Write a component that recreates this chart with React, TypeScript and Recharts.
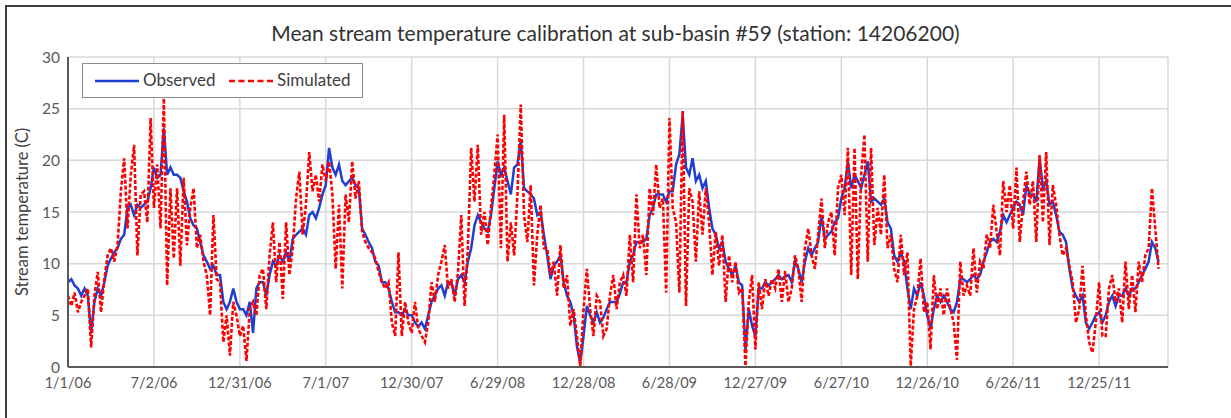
import { LineChart, Line, XAxis, YAxis, CartesianGrid, Legend } from "recharts";

// weekly samples (every 7 days from 1/1/06)
const weekStep = 7;

const observed2006 = [8.2, 8.5, 7.9, 7.6, 6.9, 7.6, 6.9, 3.3, 6.3, 7.6, 6.9, 8.2, 9.8, 10.5, 11.1, 11.5, 12.4, 12.8, 15.4, 15.7, 14.7, 15.7, 15.4, 15.7, 16.0, 17.3, 19.3, 18.3, 18.6, 23.1, 18.6, 19.3, 18.6, 18.6, 18.3, 17.0, 16.0, 14.4, 13.7, 13.4, 12.1, 10.8, 10.2, 9.5, 9.8, 8.9, 8.9, 6.3, 5.6, 6.3, 7.6, 6.3, 5.6];
const observed2007 = [5.6, 5.0, 6.3, 3.3, 7.6, 8.2, 8.2, 6.9, 8.9, 10.2, 9.8, 10.8, 10.2, 11.1, 10.2, 12.4, 12.8, 13.1, 13.4, 12.8, 14.7, 15.0, 14.4, 15.4, 16.7, 17.6, 21.2, 19.3, 18.6, 19.6, 18.0, 17.6, 18.0, 18.3, 17.6, 17.3, 13.4, 12.8, 12.1, 11.5, 10.2, 9.8, 8.2, 8.2, 7.6, 6.3, 5.3, 5.3, 5.0, 5.6, 5.0, 5.0];
const observed2008 = [4.3, 3.9, 4.3, 3.7, 5.0, 6.3, 6.9, 7.6, 7.9, 6.9, 8.2, 8.2, 6.9, 8.5, 8.9, 8.2, 10.2, 11.5, 13.7, 14.7, 14.0, 13.4, 13.1, 14.7, 17.3, 19.9, 18.6, 19.3, 18.0, 16.7, 19.3, 19.6, 21.9, 17.3, 17.0, 16.7, 16.3, 14.7, 15.0, 12.8, 10.8, 8.5, 9.8, 10.2, 10.8, 8.2, 6.9, 6.3, 5.0, 2.0, 0.4, 3.0];
const observed2009 = [5.9, 5.0, 4.3, 5.3, 4.3, 4.8, 5.6, 6.3, 6.3, 6.3, 7.1, 8.2, 8.2, 10.2, 10.8, 12.1, 12.1, 12.1, 12.4, 14.7, 15.4, 16.7, 16.7, 16.7, 16.0, 17.0, 17.0, 19.6, 20.6, 24.4, 19.3, 18.6, 20.2, 18.0, 18.6, 17.3, 18.0, 15.4, 13.4, 12.8, 11.5, 12.1, 10.2, 9.5, 8.9, 9.8, 8.2, 7.9, 1.7, 5.6, 4.0, 3.0];
const observed2010 = [7.6, 7.6, 8.2, 7.9, 8.2, 8.5, 8.9, 8.5, 8.8, 8.9, 8.2, 10.2, 9.5, 8.2, 10.2, 11.5, 10.8, 11.5, 12.1, 14.7, 12.4, 12.8, 13.1, 14.0, 14.4, 16.3, 17.3, 19.9, 17.3, 18.6, 18.0, 17.3, 18.6, 19.9, 16.0, 16.3, 16.0, 15.7, 16.3, 14.0, 13.4, 10.8, 10.2, 11.1, 10.2, 7.6, 5.6, 7.6, 6.9, 8.2, 6.9, 5.0];
const observed2011 = [3.7, 5.6, 6.9, 6.3, 6.9, 6.3, 5.6, 5.3, 6.3, 8.5, 8.5, 8.2, 8.5, 8.9, 8.5, 8.9, 10.2, 11.1, 12.1, 12.4, 12.1, 13.1, 14.7, 14.0, 14.7, 15.4, 16.0, 15.7, 14.7, 17.6, 16.7, 16.7, 16.0, 20.2, 17.3, 18.0, 15.7, 16.0, 14.7, 13.1, 12.8, 12.1, 9.5, 7.6, 6.9, 6.3, 6.9, 4.3, 3.7, 4.3, 5.0, 5.3];
const observed2012 = [4.3, 5.0, 6.3, 6.9, 5.9, 6.9, 6.9, 7.6, 6.9, 7.6, 7.6, 8.2, 8.9, 9.5, 10.2, 12.1, 11.5, 10.2];

const simulated2006 = [6.9, 5.9, 7.2, 5.3, 6.3, 6.9, 7.6, 1.9, 6.9, 9.2, 5.3, 8.5, 10.8, 11.5, 10.2, 11.8, 17.0, 20.2, 13.4, 18.6, 21.5, 10.8, 16.7, 17.0, 14.0, 24.1, 15.4, 19.6, 13.4, 26.0, 7.9, 17.3, 10.5, 17.3, 9.8, 18.3, 11.8, 15.4, 17.3, 11.5, 12.8, 10.2, 8.9, 5.0, 14.7, 8.5, 8.2, 2.4, 5.0, 1.1, 6.3, 5.0, 3.0];
const simulated2007 = [4.0, 0.6, 5.6, 6.3, 5.0, 8.9, 9.5, 5.6, 10.8, 14.0, 8.2, 12.1, 6.6, 14.0, 8.9, 11.5, 16.3, 18.9, 12.8, 15.7, 20.8, 17.0, 18.6, 16.0, 19.6, 18.0, 19.9, 16.7, 9.5, 15.7, 7.6, 16.7, 14.0, 19.9, 16.3, 18.0, 13.1, 12.1, 11.5, 11.1, 10.5, 9.2, 8.2, 7.6, 8.2, 4.3, 3.0, 11.1, 3.0, 6.3, 4.3, 3.3];
const simulated2008 = [6.3, 3.7, 3.0, 2.4, 4.3, 8.2, 6.3, 8.9, 10.2, 11.8, 7.6, 8.5, 6.3, 9.2, 14.7, 5.9, 11.5, 21.2, 16.0, 21.5, 12.8, 15.0, 11.8, 15.4, 18.6, 22.5, 11.5, 24.4, 10.2, 14.0, 10.8, 16.7, 25.4, 14.7, 12.1, 17.6, 7.9, 12.8, 15.7, 11.5, 11.5, 8.9, 10.2, 6.9, 11.8, 7.6, 8.9, 4.0, 5.6, 3.0, 0.1, 5.6];
const simulated2009 = [9.5, 5.6, 3.0, 6.9, 6.3, 3.0, 3.7, 6.9, 8.9, 5.6, 8.2, 8.9, 6.9, 12.8, 8.2, 16.7, 11.5, 12.8, 8.9, 17.3, 14.7, 19.6, 15.4, 16.3, 7.2, 24.1, 15.4, 14.0, 7.2, 24.8, 5.9, 17.3, 16.0, 10.2, 17.0, 12.8, 17.3, 14.0, 8.9, 13.1, 9.8, 12.8, 6.3, 10.8, 8.2, 10.2, 7.2, 7.6, 0.1, 6.3, 8.9, 1.7];
const simulated2010 = [8.2, 5.6, 8.5, 6.9, 8.5, 7.6, 9.5, 6.3, 9.3, 6.3, 7.6, 10.8, 9.5, 6.3, 11.5, 13.4, 10.8, 9.5, 12.8, 16.3, 11.5, 14.0, 15.0, 10.8, 17.3, 18.6, 14.7, 21.2, 8.9, 21.2, 8.5, 18.6, 22.5, 10.2, 21.2, 11.8, 15.4, 12.8, 18.6, 11.5, 12.8, 9.5, 8.2, 12.8, 8.9, 11.1, 0.1, 5.6, 6.9, 10.5, 5.3, 6.3];
const simulated2011 = [1.7, 8.9, 5.6, 7.6, 5.0, 7.6, 5.6, 4.3, 0.7, 10.2, 6.9, 7.9, 6.9, 11.5, 7.2, 10.2, 9.5, 12.8, 11.5, 15.7, 13.1, 10.8, 18.0, 15.0, 17.6, 13.4, 19.3, 12.1, 16.0, 18.9, 15.7, 18.0, 12.1, 20.5, 14.0, 20.8, 11.8, 17.6, 15.7, 12.8, 10.8, 11.5, 9.8, 8.2, 4.3, 5.6, 9.8, 5.0, 2.4, 1.4, 4.3, 8.2];
const simulated2012 = [3.0, 3.0, 7.6, 8.9, 6.3, 7.6, 4.3, 10.2, 5.6, 8.9, 5.3, 10.2, 8.2, 10.8, 11.5, 17.3, 13.4, 9.5];

const observed = [...observed2006, ...observed2007, ...observed2008, ...observed2009, ...observed2010, ...observed2011, ...observed2012];
const simulated = [...simulated2006, ...simulated2007, ...simulated2008, ...simulated2009, ...simulated2010, ...simulated2011, ...simulated2012];

const tickDays = [0, 182, 364, 546, 728, 910, 1092, 1274, 1456, 1638, 1820, 2002, 2184];
const tickLabels = ["1/1/06", "7/2/06", "12/31/06", "7/1/07", "12/30/07", "6/29/08", "12/28/08", "6/28/09", "12/27/09", "6/27/10", "12/26/10", "6/26/11", "12/25/11"];
const yTicks = [0, 5, 10, 15, 20, 25, 30];

const data = observed.map((v, i) => ({
  day: i * weekStep,
  observed: v,
  simulated: simulated[i],
}));

const FONT = "Lato, 'Open Sans', sans-serif";

const renderLegend = () => (
  <div
    style={{
      position: "relative",
      boxSizing: "border-box",
      width: 281,
      height: 35,
      border: "1.5px solid #8c8c8c",
      background: "#fff",
      fontFamily: FONT,
      fontSize: 17,
      color: "#404040",
    }}
  >
    <svg width={281} height={35} style={{ position: "absolute", left: -1.5, top: -1.5 }}>
      <line x1={13} y1={18} x2={57} y2={18} stroke="#1f3fd1" strokeWidth={2.5} />
      <line x1={147} y1={18} x2={193} y2={18} stroke="#ff0000" strokeWidth={2.5} strokeDasharray="6 3.5" />
    </svg>
    <span style={{ position: "absolute", left: 60, top: 6, lineHeight: "20px" }}>Observed</span>
    <span style={{ position: "absolute", left: 194, top: 6, lineHeight: "20px" }}>Simulated</span>
  </div>
);

export default function App() {
  return (
    <div style={{ position: "absolute", left: 0, top: 0, width: 1231, height: 418, overflow: "hidden", background: "#fff", fontFamily: FONT }}>
      <div style={{ position: "absolute", left: 5, top: 5, width: 1240, height: 430, borderLeft: "2px solid #3f3f3f", borderTop: "2px solid #3f3f3f" }} />
      <div style={{ position: "absolute", left: 0, top: 20, width: 1231, textAlign: "center", fontSize: 21, color: "#333" }}>
        Mean stream temperature calibration at sub-basin #59 (station: 14206200)
      </div>
      <div style={{ position: "absolute", left: 0, top: 0 }}>
        <LineChart width={1231} height={418} data={data} margin={{ top: 57, right: 63, bottom: 21, left: 0 }}>
          <CartesianGrid stroke="#d9d9d9" strokeWidth={1.5} />
          <XAxis
            dataKey="day"
            type="number"
            domain={[0, 2330]}
            ticks={tickDays}
            interval={0}
            height={30}
            tickLine={false}
            tickSize={6}
            tickMargin={5}
            axisLine={{ stroke: "#595959", strokeWidth: 2 }}
            tick={{ fontSize: 14.5, fill: "#595959" }}
            tickFormatter={(d: number) => tickLabels[tickDays.indexOf(d)] ?? ""}
          />
          <YAxis
            domain={[0, 30]}
            ticks={yTicks}
            width={68}
            tickLine={false}
            axisLine={{ stroke: "#595959", strokeWidth: 2 }}
            tick={{ fontSize: 15.5, fill: "#595959" }}
            label={{ value: "Stream temperature (C)", angle: -90, position: "center", dx: -12, style: { fontSize: 16.5, fill: "#404040" } }}
          />
          <Legend
            layout="horizontal"
            verticalAlign="middle"
            align="center"
            content={renderLegend}
            wrapperStyle={{ position: "absolute", left: 82, top: 63, width: 281, height: 35 }}
          />
          <Line type="linear" dataKey="observed" stroke="#1f3fd1" strokeWidth={2.5} dot={false} isAnimationActive={false} />
          <Line type="linear" dataKey="simulated" stroke="#ff0000" strokeWidth={2.6} strokeDasharray="4 2" dot={false} isAnimationActive={false} />
        </LineChart>
      </div>
    </div>
  );
}
